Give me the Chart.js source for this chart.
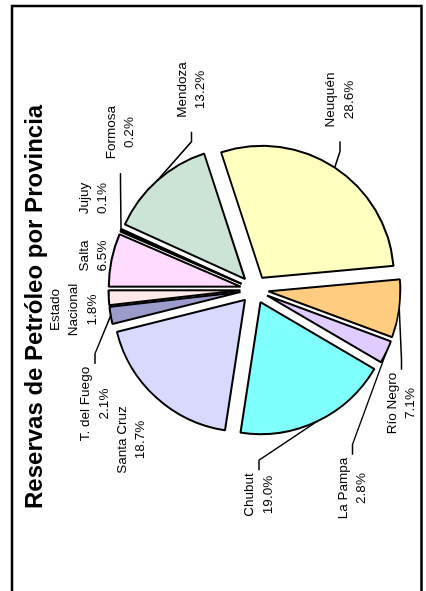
<!DOCTYPE html>
<html lang="es">
<head>
<meta charset="utf-8">
<title>Reservas de Petróleo por Provincia</title>
<script src="https://cdn.jsdelivr.net/npm/chart.js@4.4.1/dist/chart.umd.min.js"></script>
<style>
  html, body { margin: 0; padding: 0; background: #fff; overflow: hidden; }
  /* the whole sheet is printed turned a quarter to the left */
  .sheet { position: absolute; left: 0; top: 600px; width: 600px; height: 426px; transform-origin: 0 0; transform: rotate(-90deg); }
</style>
</head>
<body>
<div class="sheet"><canvas id="reservasChart" width="600" height="426"></canvas></div>
<script>
const provincias = ['Salta', 'Jujuy', 'Formosa', 'Mendoza', 'Neuquén', 'Río Negro', 'La Pampa', 'Chubut', 'Santa Cruz', 'T. del Fuego', 'Estado Nacional'];
const reservas = [6.5, 0.1, 0.2, 13.2, 28.6, 7.1, 2.8, 19.0, 18.7, 2.1, 1.8];
const colores = ['#FFDCFF', '#FFFFCC', '#CCFFFF', '#CCE4D6', '#FFFFC0', '#FFCC80', '#E0CCFF', '#80FFFF', '#D9D9FF', '#9C9CCC', '#FFE8E8'];

// where each label was dragged to, relative to the pie centre
const etiquetaPos = [
    [33.5, -161], [91, -161], [157, -134], [199.5, -63], [189.5, 85.5],
    [-114, 147], [-199, 98], [-205.5, 4.5], [-150.5, -123], [-114.5, -159.5], [-20.5, -181]
];
const conGuia = [false, false, true, true, true, true, true, true, false, true, false];

const GAP = 14;      // explosion of every slice
const RADIO = 132;
const LH = 18.5;
const FONT = '"Liberation Sans", Arial, sans-serif';

Chart.defaults.font.family = FONT;

const partir = (t) => (t.length > 12 ? t.split(' ') : [t]);

const explotar = {
    id: 'explotar',
    beforeDatasetDraw(chart, args) {
        const ctx = chart.ctx;
        args.meta.data.forEach((arc) => {
            const mid = (arc.startAngle + arc.endAngle) / 2;
            ctx.save();
            ctx.translate(Math.cos(mid) * GAP, Math.sin(mid) * GAP);
            arc.draw(ctx);
            ctx.restore();
        });
        return false;
    },
};

const rotulos = {
    id: 'rotulos',
    afterDatasetsDraw(chart) {
        const ctx = chart.ctx;
        const arcs = chart.getDatasetMeta(0).data;
        ctx.save();
        ctx.font = '13.5px ' + FONT;
        ctx.fillStyle = '#000';
        ctx.strokeStyle = '#000';
        ctx.lineWidth = 1.5;
        ctx.textAlign = 'center';
        ctx.textBaseline = 'middle';
        arcs.forEach((arc, i) => {
            const lineas = partir(provincias[i]).concat(reservas[i].toFixed(1) + '%');
            const cx = arc.x + etiquetaPos[i][0];
            const cy = arc.y + etiquetaPos[i][1];
            const top = cy - (lineas.length - 1) * LH / 2;
            lineas.forEach((t, k) => ctx.fillText(t, cx, top + k * LH));

            if (!conGuia[i]) return;
            const mid = (arc.startAngle + arc.endAngle) / 2;
            const r = arc.outerRadius + GAP;
            const px = arc.x + Math.cos(mid) * r;
            const py = arc.y + Math.sin(mid) * r;
            const half = Math.max(...lineas.map((t) => ctx.measureText(t).width)) / 2;
            const dir = px < cx ? -1 : 1;
            const x0 = dir < 0 ? cx - half - 14 : cx + half + 3;
            ctx.beginPath();
            ctx.moveTo(x0, cy);
            ctx.lineTo(x0 + dir * 10, cy);
            ctx.lineTo(px, py);
            ctx.stroke();
        });
        ctx.restore();
    },
};

const marco = {
    id: 'marco',
    afterDraw(chart) {
        const ctx = chart.ctx;
        ctx.save();
        ctx.strokeStyle = '#000';
        ctx.lineWidth = 2.5;
        ctx.strokeRect(-10, 12, 604, 409.5);
        ctx.restore();
    },
};

new Chart(document.getElementById('reservasChart'), {
    type: 'pie',
    data: {
        labels: provincias,
        datasets: [
            {
                data: reservas,
                backgroundColor: colores,
                borderColor: '#000',
                borderWidth: 2,
                radius: RADIO,
            },
        ],
    },
    options: {
        responsive: false,
        animation: false,
        devicePixelRatio: 1,
        layout: { padding: { left: 91, right: 70, top: 0, bottom: 0 } },
        plugins: {
            legend: { display: false },
            tooltip: { enabled: false },
            title: {
                display: true,
                text: 'Reservas de Petróleo por Provincia',
                align: 'start',
                color: '#000',
                font: { size: 24, weight: 'bold' },
                padding: { top: 21, bottom: 33 },
            },
        },
    },
    plugins: [explotar, rotulos, marco],
});
</script>
</body>
</html>
